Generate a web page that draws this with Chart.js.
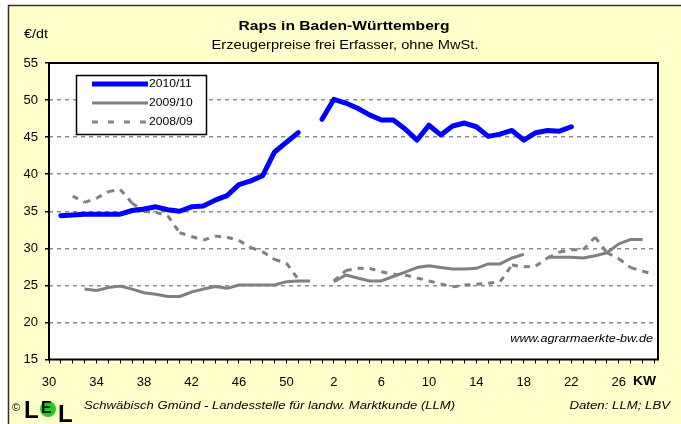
<!DOCTYPE html>
<html>
<head>
<meta charset="utf-8">
<script src="https://cdn.jsdelivr.net/npm/chart.js@4"></script>
<style>
  body { margin: 0; background: #fff; }
  #wrap { width: 681px; height: 424px; position: relative; }
</style>
</head>
<body>
<div id="wrap"><canvas id="chart"></canvas></div>
<script>
// Kalenderwochen (KW 30 bis KW 29 des Folgejahres)
const weeks = [30,31,32,33,34,35,36,37,38,39,40,41,42,43,44,45,46,47,48,49,50,51,52,
  1,2,3,4,5,6,7,8,9,10,11,12,13,14,15,16,17,18,19,20,21,22,23,24,25,26,27,28,29];

const seriesNames = ["2010/11", "2009/10", "2008/09"];

// Erzeugerpreise in €/dt, null = keine Notierung
const raps1011 = [null,34.4,34.5,34.6,34.6,34.6,34.6,35.1,35.3,35.6,35.2,35.0,35.6,35.7,36.5,37.1,38.6,39.1,39.8,43.0,44.3,45.6,null,
  47.4,50.1,49.6,48.9,48.0,47.3,47.3,46.1,44.6,46.6,45.3,46.5,46.9,46.4,45.1,45.4,45.9,44.6,45.6,45.9,45.8,46.4,
  null,null,null,null,null,null,null];
const raps0910 = [null,null,null,24.5,24.3,24.7,24.9,24.5,24.0,23.8,23.5,23.5,24.1,24.5,24.85,24.6,25.05,25.05,25.05,25.05,25.5,25.6,25.6,
  null,25.5,26.4,26.0,25.6,25.6,26.2,26.8,27.4,27.65,27.4,27.2,27.2,27.3,27.9,27.9,28.7,29.2,
  null,28.8,28.8,28.8,28.7,29.0,29.4,30.6,31.2,31.2,null];
const raps0809 = [null,null,37.05,36.2,36.75,37.65,37.95,36.1,34.95,34.85,34.4,32.1,31.6,31.1,31.65,31.5,31.05,30.1,29.55,28.5,28.0,25.8,null,
  null,25.6,27.0,27.3,27.3,26.85,26.5,26.4,26.0,25.6,25.2,24.8,25.05,25.15,25.3,25.5,27.75,27.5,27.6,28.7,29.5,29.8,29.8,31.5,29.4,28.6,27.4,26.9,26.5];

const yTicks = [15, 20, 25, 30, 35, 40, 45, 50, 55];

const toPoints = (arr) => arr.map((v, i) => ({ x: i, y: v }));

function txt(ctx, s, x, y, font, align, sx, color) {
  ctx.save();
  ctx.font = font;
  ctx.fillStyle = color || "#000";
  ctx.textBaseline = "middle";
  ctx.textAlign = align;
  ctx.translate(x, y);
  ctx.scale(sx, 1);
  ctx.fillText(s, 0, 0);
  ctx.restore();
}

const decor = {
  id: "decor",
  beforeDraw(chart) {
    const ctx = chart.ctx;
    const a = chart.chartArea;
    ctx.save();
    ctx.fillStyle = "#fff";
    ctx.fillRect(0, 0, chart.width, chart.height);
    ctx.fillStyle = "#ffffcc";
    ctx.fillRect(8, 5, chart.width - 8, chart.height - 5);
    ctx.strokeStyle = "#333";
    ctx.lineWidth = 1.5;
    ctx.beginPath();
    ctx.moveTo(8.5, chart.height);
    ctx.lineTo(8.5, 5.5);
    ctx.lineTo(chart.width, 5.5);
    ctx.stroke();
    ctx.fillStyle = "#fff";
    ctx.fillRect(a.left, a.top, a.right - a.left, a.bottom - a.top);
    ctx.restore();
  },
  afterDraw(chart) {
    const ctx = chart.ctx;
    const a = chart.chartArea;
    ctx.save();
    // Rahmen Zeichenfläche
    ctx.strokeStyle = "#000";
    ctx.lineWidth = 2;
    ctx.strokeRect(a.left, a.top, a.right - a.left, a.bottom - a.top);

    // Legende
    ctx.fillStyle = "#fff";
    ctx.fillRect(76, 75, 131, 60);
    ctx.lineWidth = 1.5;
    ctx.strokeRect(76.5, 75.5, 130, 59);
    const rows = [84, 103, 122];
    chart.data.datasets.forEach((ds, i) => {
      ctx.save();
      ctx.strokeStyle = ds.borderColor;
      ctx.lineWidth = ds.borderWidth;
      ctx.setLineDash(ds.borderDash && ds.borderDash.length ? [6, 10] : []);
      ctx.beginPath();
      ctx.moveTo(92, rows[i]);
      ctx.lineTo(148, rows[i]);
      ctx.stroke();
      ctx.restore();
      txt(ctx, ds.label, 149, rows[i], "11px 'Liberation Sans'", "left", 1.1);
    });

    // Titel
    txt(ctx, "Raps in Baden-Württemberg", 344, 27, "bold 12.5px 'Liberation Sans'", "center", 1.25);
    txt(ctx, "Erzeugerpreise frei Erfasser, ohne MwSt.", 345, 46, "12px 'Liberation Sans'", "center", 1.22);
    txt(ctx, "€/dt", 24, 35, "12px 'Liberation Sans'", "left", 1.2);
    txt(ctx, "KW", 633, 382, "bold 12px 'Liberation Sans'", "left", 1.15);

    // Quelle und Logo
    txt(ctx, "www.agrarmaerkte-bw.de", 653, 339, "italic 11px 'Liberation Sans'", "right", 1.15);
    txt(ctx, "©", 12, 408, "11px 'Liberation Sans'", "left", 1);
    txt(ctx, "L", 24, 411, "bold 24px 'Liberation Sans'", "left", 1);
    ctx.fillStyle = "#22cc22";
    ctx.beginPath();
    ctx.arc(48, 409, 8, 0, Math.PI * 2);
    ctx.fill();
    txt(ctx, "E", 41, 409, "bold 16px 'Liberation Sans'", "left", 1);
    txt(ctx, "L", 58, 415, "bold 24px 'Liberation Sans'", "left", 1);
    txt(ctx, "Schwäbisch Gmünd - Landesstelle für landw. Marktkunde (LLM)", 84, 406, "italic 11px 'Liberation Sans'", "left", 1.19);
    txt(ctx, "Daten: LLM; LBV", 670, 406, "italic 11px 'Liberation Sans'", "right", 1.2);
    ctx.restore();
  }
};

new Chart(document.getElementById("chart"), {
  type: "line",
  data: {
    datasets: [
      {
        label: seriesNames[0],
        data: toPoints(raps1011),
        borderColor: "#0000ff",
        borderWidth: 5,
        borderCapStyle: "round",
        borderJoinStyle: "round",
      },
      {
        label: seriesNames[1],
        data: toPoints(raps0910),
        borderColor: "#808080",
        borderWidth: 3,
        borderJoinStyle: "round",
      },
      {
        label: seriesNames[2],
        data: toPoints(raps0809),
        borderColor: "#808080",
        borderWidth: 3,
        borderDash: [6, 6],
        // Strichmuster beginnt wie im Original an jedem Wochenpunkt neu
        segment: {
          borderDashOffset: (c) => (c.p0DataIndex % 2) * 0.01,
        },
      },
    ],
  },
  options: {
    responsive: true,
    maintainAspectRatio: false,
    animation: false,
    spanGaps: false,
    elements: { point: { radius: 0, hoverRadius: 0 }, line: { tension: 0 } },
    layout: { padding: { left: 0, top: 63, right: 23, bottom: 0 } },
    plugins: { legend: { display: false }, tooltip: { enabled: false }, title: { display: false } },
    scales: {
      x: {
        type: "linear",
        min: 0,
        max: 51.3,
        afterFit: (s) => { s.height = 64.5; },
        border: { display: false },
        grid: { drawOnChartArea: false, drawTicks: true, tickLength: 4, tickColor: "#000", tickWidth: 1 },
        ticks: {
          stepSize: 1,
          autoSkip: false,
          includeBounds: false,
          maxRotation: 0,
          padding: 11,
          color: "#000",
          font: { family: "'Liberation Sans'", size: 13 },
          callback: (v) => (v % 4 === 0 && v <= 48 ? String(weeks[v]) : ""),
        },
      },
      y: {
        min: yTicks[0],
        max: yTicks[yTicks.length - 1],
        afterFit: (s) => { s.width = 49; },
        border: { display: false, dash: [4, 4] },
        grid: {
          color: (c) => (c.tick && (c.tick.value === 15 || c.tick.value === 55) ? "rgba(0,0,0,0)" : "#8c8c8c"),
          lineWidth: 1.5,
          tickLength: 4,
          tickColor: "#000",
          tickBorderDash: [1, 0],
        },
        ticks: {
          stepSize: 5,
          padding: 7,
          color: "#000",
          font: { family: "'Liberation Sans'", size: 13 },
        },
        afterBuildTicks: (s) => { s.ticks = yTicks.map((v) => ({ value: v })); },
      },
    },
  },
  plugins: [decor],
});
</script>
</body>
</html>
